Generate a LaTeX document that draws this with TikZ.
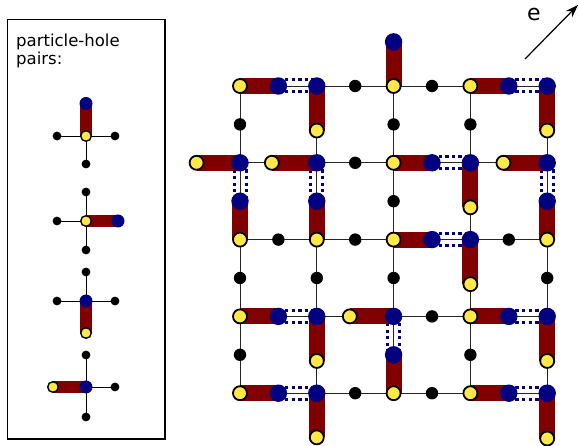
\documentclass[tikz,border=0pt]{standalone}
\usepackage{fontspec}
\setmainfont{DejaVu Sans}
\usetikzlibrary{arrows.meta}
\definecolor{maroonc}{RGB}{128,0,0}
\definecolor{navyc}{RGB}{0,0,128}
\definecolor{yellowc}{RGB}{255,232,72}
\tikzset{
  gridline/.style={line width=0.9pt, black!85},
  bar/.style={line width=16pt, maroonc},
  lbar/.style={line width=12pt, maroonc},
  strng/.style={navyc, line width=3pt, dash pattern=on 3.3pt off 3.3pt},
  bdot/.style={circle, fill=black, inner sep=0pt, minimum size=12.4pt},
  ydot/.style={circle, fill=yellowc, draw=black, line width=1.8pt, inner sep=0pt, minimum size=14pt},
  udot/.style={circle, fill=navyc, inner sep=0pt, minimum size=17.4pt},
  lbdot/.style={circle, fill=black, inner sep=0pt, minimum size=8.8pt},
  lydot/.style={circle, fill=yellowc, draw=black, line width=1.4pt, inner sep=0pt, minimum size=10.6pt},
  ludot/.style={circle, fill=navyc, inner sep=0pt, minimum size=13pt},
  lline/.style={line width=0.9pt, black},
  txt/.style={inner sep=0pt, font=\fontsize{16.5}{19}\selectfont},
}
\begin{document}
\begin{tikzpicture}[x=1pt,y=-1pt]
\useasboundingbox (0,0) rectangle (579,446);
\fill[white] (0,0) rectangle (579,446);

% ---------- legend box ----------
\draw[line width=1.3pt] (7.5,19.5) rectangle (165,439);
\node[txt, anchor=base west] (lt1) at (16,46.5) {particle-hole};
\node[txt, anchor=base west] (lt2) at (16,65) {pairs:};

% legend coordinates
\coordinate (L1c) at (86,136); \coordinate (L1l) at (57,136); \coordinate (L1r) at (115,136);
\coordinate (L1d) at (86,164); \coordinate (L1u) at (86,103.5);
\coordinate (L2c) at (86,221); \coordinate (L2u) at (86,192); \coordinate (L2d) at (86,250);
\coordinate (L2l) at (57,221); \coordinate (L2r) at (118,221);
\coordinate (L3c) at (86,301); \coordinate (L3u) at (86,272); \coordinate (L3l) at (57,301);
\coordinate (L3r) at (115,301); \coordinate (L3d) at (86,333);
\coordinate (L4c) at (86,387); \coordinate (L4u) at (86,355); \coordinate (L4d) at (86,417);
\coordinate (L4r) at (115,387); \coordinate (L4l) at (53,387);

\draw[lline] (L1l) -- (L1r); \draw[lline] (L1c) -- (L1d);
\draw[lline] (L2u) -- (L2d); \draw[lline] (L2l) -- (L2c);
\draw[lline] (L3l) -- (L3r); \draw[lline] (L3u) -- (L3c);
\draw[lline] (L4u) -- (L4d); \draw[lline] (L4c) -- (L4r);

\draw[lbar] (L1c) -- (L1u);
\draw[lbar] (L2c) -- (L2r);
\draw[lbar] (L3c) -- (L3d);
\draw[lbar] (L4l) -- (L4c);

\foreach \p [count=\n] in {L1l,L1r,L1d,L2u,L2d,L2l,L3u,L3l,L3r,L4u,L4d,L4r}
  \node[lbdot] (lb\n) at (\p) {};
\node[lydot] (ly1) at (L1c) {}; \node[ludot] (lu1) at (L1u) {};
\node[lydot] (ly2) at (L2c) {}; \node[ludot] (lu2) at (L2r) {};
\node[ludot] (lu3) at (L3c) {}; \node[lydot] (ly3) at (L3d) {};
\node[ludot] (lu4) at (L4c) {}; \node[lydot] (ly4) at (L4l) {};

% ---------- field arrow ----------
\coordinate (etail) at (525,59);
\coordinate (ehead) at (578,5);
\draw[line width=1.2pt, -{Stealth[length=13pt,width=9pt]}] (etail) -- (ehead);
\node[inner sep=0pt, font=\fontsize{22}{24}\selectfont] (elab) at (534,14) {e};

% ---------- lattice ----------
\begin{scope}[x=38.4pt, y=-38.4pt, shift={(240pt,-86pt)}]
\foreach \i in {0,...,8} \foreach \j in {0,...,8} \coordinate (s\i-\j) at (\i,\j);
\coordinate (e2) at (2,1.16);   \coordinate (e3) at (4,-1.15);
\coordinate (e5) at (8,1.16);   \coordinate (e6) at (-1.13,2);
\coordinate (e8) at (0.83,2);   \coordinate (e11) at (6,3.16);
\coordinate (e12) at (6.86,2);  \coordinate (e15) at (6,5.16);
\coordinate (e17) at (2,7.16);  \coordinate (e18) at (2.86,6);
\coordinate (e21) at (8,7.16);  \coordinate (e23) at (2,9.15);
\coordinate (e25) at (8,9.18);

\foreach \k in {0,2,4,6,8} {
  \draw[gridline] (s\k-0) -- (s\k-8);
  \draw[gridline] (s0-\k) -- (s8-\k);
}

\foreach \a/\b in {s1-0/s2-0,s7-0/s8-0,s5-2/s6-2,s5-4/s6-4,s1-6/s2-6,s7-6/s8-6,s1-8/s2-8,s7-8/s8-8} {
  \draw[strng, transform canvas={yshift=6pt}] (\a) -- (\b);
  \draw[strng, transform canvas={yshift=-6pt}] (\a) -- (\b);
}
\foreach \a/\b in {s0-2/s0-3,s2-2/s2-3,s8-2/s8-3,s4-6/s4-7} {
  \draw[strng, transform canvas={xshift=6pt}] (\a) -- (\b);
  \draw[strng, transform canvas={xshift=-6pt}] (\a) -- (\b);
}

\def\dimers{s0-0/s1-0, e2/s2-0, s4-0/e3, s6-0/s7-0, e5/s8-0, e6/s0-2, s0-4/s0-3, e8/s2-2, s2-4/s2-3, s4-2/s5-2, e11/s6-2, e12/s8-2, s8-4/s8-3, s4-4/s5-4, e15/s6-4, s0-6/s1-6, e17/s2-6, e18/s4-6, s4-8/s4-7, s6-6/s7-6, e21/s8-6, s0-8/s1-8, e23/s2-8, s6-8/s7-8, e25/s8-8}

\foreach \a/\b in \dimers \draw[bar] (\a) -- (\b);

\foreach \p [count=\n] in {s3-0,s5-0,s0-1,s4-1,s6-1,s3-2,s4-3,s1-4,s3-4,s7-4,s0-5,s2-5,s4-5,s8-5,s5-6,s0-7,s6-7,s3-8,s5-8}
  \node[bdot] (bk\n) at (\p) {};

\foreach \a/\b [count=\n] in \dimers {
  \node[ydot] (yl\n) at (\a) {};
  \node[udot] (bl\n) at (\b) {};
}
\end{scope}
\end{tikzpicture}
\end{document}
